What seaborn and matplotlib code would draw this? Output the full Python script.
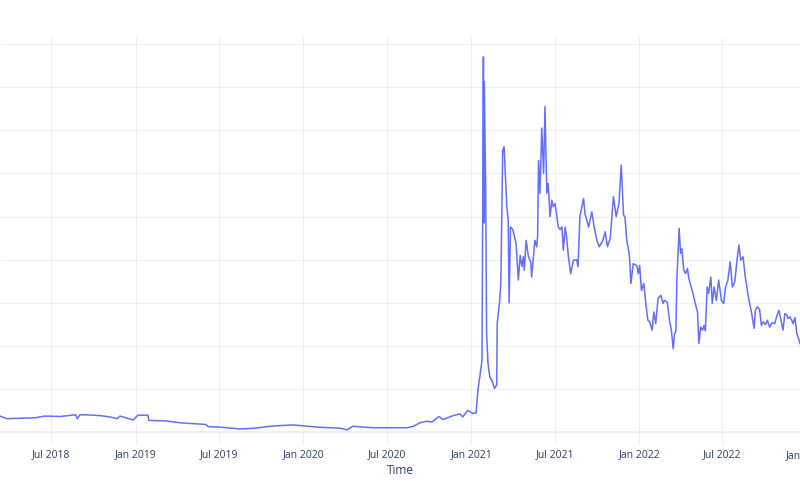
import pandas as pd
import matplotlib
matplotlib.use("Agg")
import matplotlib.pyplot as plt
import matplotlib.dates as mdates
import seaborn as sns

# closing price
dates = [
    "2018-03-01", "2018-03-12", "2018-03-27", "2018-04-25", "2018-05-27", "2018-06-18",
    "2018-07-21", "2018-08-24", "2018-08-27", "2018-09-02", "2018-09-13", "2018-10-16",
    "2018-11-06", "2018-11-22", "2018-11-28", "2018-12-27", "2019-01-06", "2019-01-28",
    "2019-01-30", "2019-03-06", "2019-04-08", "2019-06-03", "2019-06-08", "2019-07-04",
    "2019-08-16", "2019-09-18", "2019-10-27", "2019-12-10", "2019-12-25", "2020-01-09",
    "2020-02-07", "2020-03-21", "2020-04-05", "2020-04-18", "2020-05-04", "2020-06-01",
    "2020-07-08", "2020-08-14", "2020-08-27", "2020-09-11", "2020-09-26", "2020-10-07",
    "2020-10-22", "2020-10-31", "2020-11-22", "2020-12-07", "2020-12-13", "2020-12-24",
    "2021-01-04", "2021-01-11", "2021-01-15", "2021-01-24", "2021-01-27", "2021-01-28",
    "2021-01-29", "2021-02-01", "2021-02-03", "2021-02-06", "2021-02-10", "2021-02-15",
    "2021-02-20", "2021-02-25", "2021-02-26", "2021-03-03", "2021-03-06", "2021-03-10",
    "2021-03-13", "2021-03-15", "2021-03-19", "2021-03-22", "2021-03-24", "2021-03-27",
    "2021-04-01", "2021-04-08", "2021-04-13", "2021-04-17", "2021-04-21", "2021-04-24",
    "2021-04-26", "2021-04-30", "2021-05-05", "2021-05-10", "2021-05-12", "2021-05-16",
    "2021-05-19", "2021-05-23", "2021-05-25", "2021-05-27", "2021-05-30", "2021-06-03",
    "2021-06-07", "2021-06-10", "2021-06-14", "2021-06-17", "2021-06-21", "2021-06-25",
    "2021-06-28", "2021-07-02", "2021-07-06", "2021-07-09", "2021-07-13", "2021-07-17",
    "2021-07-20", "2021-07-24", "2021-07-27", "2021-07-31", "2021-08-05", "2021-08-11",
    "2021-08-18", "2021-08-21", "2021-08-25", "2021-09-02", "2021-09-05", "2021-09-13",
    "2021-09-20", "2021-09-25", "2021-10-01", "2021-10-06", "2021-10-14", "2021-10-19",
    "2021-10-24", "2021-10-30", "2021-11-06", "2021-11-12", "2021-11-18", "2021-11-23",
    "2021-11-28", "2021-12-01", "2021-12-05", "2021-12-09", "2021-12-11", "2021-12-14",
    "2021-12-19", "2021-12-27", "2021-12-30", "2022-01-02", "2022-01-06", "2022-01-11",
    "2022-01-17", "2022-01-20", "2022-01-24", "2022-01-29", "2022-02-02", "2022-02-06",
    "2022-02-11", "2022-02-17", "2022-02-22", "2022-02-25", "2022-03-03", "2022-03-08",
    "2022-03-12", "2022-03-16", "2022-03-19", "2022-03-22", "2022-03-24", "2022-03-29",
    "2022-04-01", "2022-04-04", "2022-04-08", "2022-04-12", "2022-04-16", "2022-04-19",
    "2022-04-24", "2022-04-28", "2022-05-03", "2022-05-08", "2022-05-11", "2022-05-15",
    "2022-05-19", "2022-05-22", "2022-05-25", "2022-05-29", "2022-06-01", "2022-06-06",
    "2022-06-09", "2022-06-13", "2022-06-18", "2022-06-23", "2022-06-29", "2022-07-04",
    "2022-07-08", "2022-07-13", "2022-07-18", "2022-07-23", "2022-07-28", "2022-08-02",
    "2022-08-06", "2022-08-10", "2022-08-15", "2022-08-20", "2022-08-26", "2022-08-31",
    "2022-09-04", "2022-09-08", "2022-09-11", "2022-09-15", "2022-09-20", "2022-09-24",
    "2022-09-28", "2022-10-03", "2022-10-07", "2022-10-12", "2022-10-17", "2022-10-23",
    "2022-10-27", "2022-11-01", "2022-11-05", "2022-11-10", "2022-11-14", "2022-11-18",
    "2022-11-21", "2022-11-25", "2022-11-29", "2022-12-02", "2022-12-06", "2022-12-10",
    "2022-12-13", "2022-12-17", "2022-12-22",
]
prices = [
    3.7, 3.8, 3.2, 3.3, 3.4, 3.8,
    3.7, 4.1, 3.2, 4.1, 4.1, 3.9,
    3.6, 3.2, 3.8, 2.9, 4.0, 4.0,
    2.8, 2.7, 2.25, 1.85, 1.35, 1.25,
    0.8, 1.0, 1.5, 1.75, 1.6, 1.45,
    1.2, 1.0, 0.6, 1.45, 1.3, 1.1,
    1.1, 1.1, 1.4, 2.25, 2.6, 2.4,
    3.7, 3.0, 3.9, 4.3, 3.6, 5.1,
    4.4, 4.5, 9.7, 16.7, 87.0, 48.5,
    81.3, 56.0, 23.0, 16.0, 12.8, 12.0,
    10.2, 11.0, 25.3, 30.0, 34.6, 65.4,
    66.2, 61.5, 52.3, 49.2, 30.0, 47.6,
    47.0, 43.8, 35.3, 41.0, 38.4, 40.7,
    37.6, 44.5, 40.7, 39.5, 36.0, 40.7,
    44.5, 43.0, 45.5, 63.0, 55.4, 70.5,
    60.0, 75.5, 55.4, 57.7, 50.0, 53.8,
    52.3, 53.0, 50.0, 47.6, 47.0, 47.6,
    42.2, 47.6, 45.3, 40.7, 36.8, 39.9,
    40.0, 38.4, 50.0, 54.2, 50.7, 47.6,
    51.1, 47.6, 44.5, 43.0, 44.5, 46.5,
    43.0, 45.0, 54.6, 50.0, 53.0, 61.9,
    50.3, 50.0, 44.5, 42.2, 40.7, 34.5,
    39.1, 38.6, 36.8, 38.7, 32.9, 34.5,
    28.5, 26.0, 25.6, 23.7, 27.9, 25.2,
    31.0, 31.8, 29.9, 30.6, 30.2, 26.0,
    23.7, 19.4, 22.9, 23.5, 35.3, 47.3,
    41.5, 42.6, 37.6, 36.8, 38.0, 35.7,
    33.7, 32.2, 29.9, 27.9, 20.6, 24.4,
    23.7, 24.8, 23.5, 33.7, 32.2, 36.0,
    29.9, 33.7, 30.6, 35.3, 30.6, 29.9,
    33.7, 35.3, 39.5, 33.7, 34.9, 39.9,
    43.4, 39.9, 40.7, 36.0, 31.8, 29.1,
    26.8, 24.1, 28.3, 29.1, 28.5, 24.8,
    25.6, 25.0, 26.0, 24.4, 25.4, 25.2,
    26.8, 28.3, 26.4, 23.7, 27.5, 27.3,
    26.4, 26.8, 26.0, 25.2, 26.6, 22.9,
    22.1, 20.6, 19.8,
]

df = pd.DataFrame({"Time": pd.to_datetime(dates), "Close": prices})

# plotly-ish colours
line_blue = "#636EFA"
grid_col = "#EBF0F8"
text_col = "#2A3F5F"

sns.set_style("white")
plt.rcParams["font.family"] = ["Open Sans", "DejaVu Sans"]

fig = plt.figure(figsize=(8, 5), dpi=100)
ax = fig.add_axes([0.0, 0.11, 1.0, 0.816])

sns.lineplot(data=df, x="Time", y="Close", ax=ax, color=line_blue, linewidth=1.1)

ax.set_xlim(pd.Timestamp("2018-03-12"), pd.Timestamp("2022-12-17"))
ax.set_ylim(-2.9, 91.6)
ax.set_yticks(range(0, 100, 10))
ax.set_yticklabels([])
ax.tick_params(axis="y", length=0)

ax.xaxis.set_major_locator(mdates.MonthLocator(bymonth=[1, 7]))
ax.xaxis.set_major_formatter(mdates.DateFormatter("%b %Y"))
ax.tick_params(axis="x", length=0, pad=3, labelsize=7.5, labelcolor=text_col)

ax.grid(True, color=grid_col, linewidth=0.8)
ax.axhline(0, color=grid_col, linewidth=1.4, zorder=0)
ax.set_axisbelow(True)
for s in ax.spines.values():
    s.set_visible(False)

# the Jan 2023 label sits just past the right edge, so only "Jan" shows
ax.text(pd.Timestamp("2023-01-01"), -0.012, "Jan 2023", transform=ax.get_xaxis_transform(),
        ha="center", va="top", fontsize=7.5, color=text_col, clip_on=False)

ax.set_xlabel("Time", fontsize=8.5, color=text_col, labelpad=3)
ax.set_ylabel("")

fig.savefig("out.png", dpi=100)
